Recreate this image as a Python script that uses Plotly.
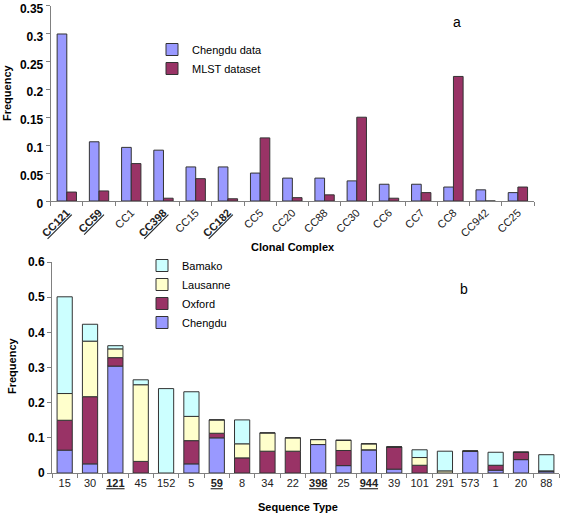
import plotly.graph_objects as go

# Panel a
cc_labels = ["CC121", "CC59", "CC1", "CC398", "CC15", "CC182", "CC5", "CC20",
             "CC88", "CC30", "CC6", "CC7", "CC8", "CC942", "CC25"]
cc_bold = ["CC121", "CC59", "CC398", "CC182"]
chengdu_cc = [0.299, 0.106, 0.096, 0.091, 0.061, 0.061, 0.050, 0.041,
              0.041, 0.036, 0.030, 0.030, 0.025, 0.020, 0.015]
mlst_cc = [0.016, 0.018, 0.067, 0.005, 0.040, 0.004, 0.113, 0.006,
           0.011, 0.150, 0.005, 0.015, 0.223, 0.0, 0.025]

# Panel b
st_labels = ["15", "30", "121", "45", "152", "5", "59", "8", "34", "22", "398",
             "25", "944", "39", "101", "291", "573", "1", "20", "88"]
st_bold = ["121", "59", "398", "944"]
chengdu_st = [0.065, 0.026, 0.304, 0.0, 0.0, 0.026, 0.100, 0.0, 0.0, 0.0, 0.081,
              0.021, 0.066, 0.011, 0.0, 0.0, 0.062, 0.008, 0.038, 0.006]
oxford_st = [0.085, 0.191, 0.024, 0.033, 0.0, 0.066, 0.013, 0.043, 0.062, 0.062, 0.0,
             0.043, 0.0, 0.063, 0.022, 0.0, 0.0, 0.014, 0.021, 0.0]
lausanne_st = [0.076, 0.158, 0.025, 0.218, 0.0, 0.069, 0.038, 0.040, 0.052, 0.038, 0.014,
               0.029, 0.017, 0.0, 0.022, 0.006, 0.0, 0.0, 0.0, 0.0]
bamako_st = [0.275, 0.048, 0.009, 0.014, 0.240, 0.070, 0.0, 0.068, 0.0, 0.0, 0.0,
             0.0, 0.0, 0.0, 0.022, 0.056, 0.0, 0.037, 0.0, 0.046]

FONT = "Liberation Sans, Arial, sans-serif"
W_FIG, H_FIG = 563, 517
ML, MR = 50, 4
PW = W_FIG - ML - MR
line = dict(color="#333333", width=1)


def px_x(px):
    return (px - ML) / PW


def px_y(py):
    return (H_FIG - py) / H_FIG


def fmt(lbl, bold):
    return f"<b><u>{lbl}</u></b>" if lbl in bold else lbl


fig = go.Figure()
fig.add_trace(go.Bar(x=cc_labels, y=chengdu_cc, name="Chengdu data",
                     marker=dict(color="#9999FF", line=line),
                     xaxis="x", yaxis="y", legend="legend"))
fig.add_trace(go.Bar(x=cc_labels, y=mlst_cc, name="MLST dataset",
                     marker=dict(color="#993366", line=line),
                     xaxis="x", yaxis="y", legend="legend"))

# stacked series for panel b (same offsetgroup, explicit bases)
base = [0.0] * len(st_labels)
for name, vals, col in [("Chengdu", chengdu_st, "#9999FF"),
                        ("Oxford", oxford_st, "#993366"),
                        ("Lausanne", lausanne_st, "#FFFFCC"),
                        ("Bamako", bamako_st, "#CCFFFF")]:
    fig.add_trace(go.Bar(x=st_labels, y=vals, base=list(base), name=name,
                         offsetgroup="st",
                         marker=dict(color=col, line=line),
                         xaxis="x2", yaxis="y2", legend="legend2"))
    base = [b + v for b, v in zip(base, vals)]

axis_common = dict(showline=True, linecolor="#808080", linewidth=1,
                   ticks="outside", ticklen=4, tickcolor="#808080",
                   showgrid=False, zeroline=False, automargin=False,
                   ticklabeloverflow="allow")

bold_ticks = lambda vals: [f"<b>{v:g}</b>" for v in vals]
ya_vals = [0, 0.05, 0.1, 0.15, 0.2, 0.25, 0.3, 0.35]
yb_vals = [0, 0.1, 0.2, 0.3, 0.4, 0.5, 0.6]

fig.update_layout(
    width=W_FIG, height=H_FIG,
    margin=dict(l=ML, r=MR, t=0, b=0),
    paper_bgcolor="white", plot_bgcolor="white",
    font=dict(family=FONT, color="black", size=11),
    barmode="group", bargap=0.4, bargroupgap=0,
    showlegend=True,
    xaxis=dict(domain=[px_x(50.7), px_x(534)], anchor="y", type="category",
               tickmode="array", tickvals=cc_labels,
               ticktext=[fmt(l, cc_bold) for l in cc_labels],
               tickangle=-45, tickson="boundaries",
               tickfont=dict(size=11, color="#222"),
               **axis_common),
    yaxis=dict(domain=[px_y(201), px_y(5.5)], anchor="x", range=[0, 0.35],
               tickvals=ya_vals, ticktext=bold_ticks(ya_vals),
               tickfont=dict(size=12), ticklabelshift=3,
               **axis_common),
    xaxis2=dict(domain=[px_x(52), px_x(559)], anchor="y2", type="category",
                tickmode="array", tickvals=st_labels,
                ticktext=[fmt(l, st_bold) for l in st_labels],
                tickangle=0, tickson="boundaries",
                tickfont=dict(size=11, color="#222"),
                **axis_common),
    yaxis2=dict(domain=[px_y(473), px_y(262)], anchor="x2", range=[0, 0.6],
                tickvals=yb_vals, ticktext=bold_ticks(yb_vals),
                tickfont=dict(size=12),
                **axis_common),
    legend=dict(x=px_x(152), y=px_y(35), xanchor="left", yanchor="top",
                bgcolor="rgba(0,0,0,0)", font=dict(size=11), tracegroupgap=0,
                itemwidth=30),
    legend2=dict(x=px_x(142), y=px_y(251), xanchor="left", yanchor="top",
                 bgcolor="rgba(0,0,0,0)", font=dict(size=11), tracegroupgap=0,
                 traceorder="reversed", itemwidth=30),
)

texts = [
    ("a", 457, 22, 14, 0),
    ("b", 464, 289, 14, 0),
    ("<b>Clonal Complex</b>", 293, 247, 11, 0),
    ("<b>Sequence Type</b>", 298, 507, 11, 0),
    ("<b>Frequency</b>", 7, 93, 11, -90),
    ("<b>Frequency</b>", 12, 366, 11, -90),
]
for t, x, y, s, ang in texts:
    fig.add_annotation(text=t, x=px_x(x), y=px_y(y), xref="paper", yref="paper",
                       showarrow=False, textangle=ang, font=dict(size=s),
                       xanchor="center", yanchor="middle")

fig.write_html("out.html", config={"displayModeBar": False},
               post_script="document.body.style.margin='0';document.body.style.overflow='hidden';")
